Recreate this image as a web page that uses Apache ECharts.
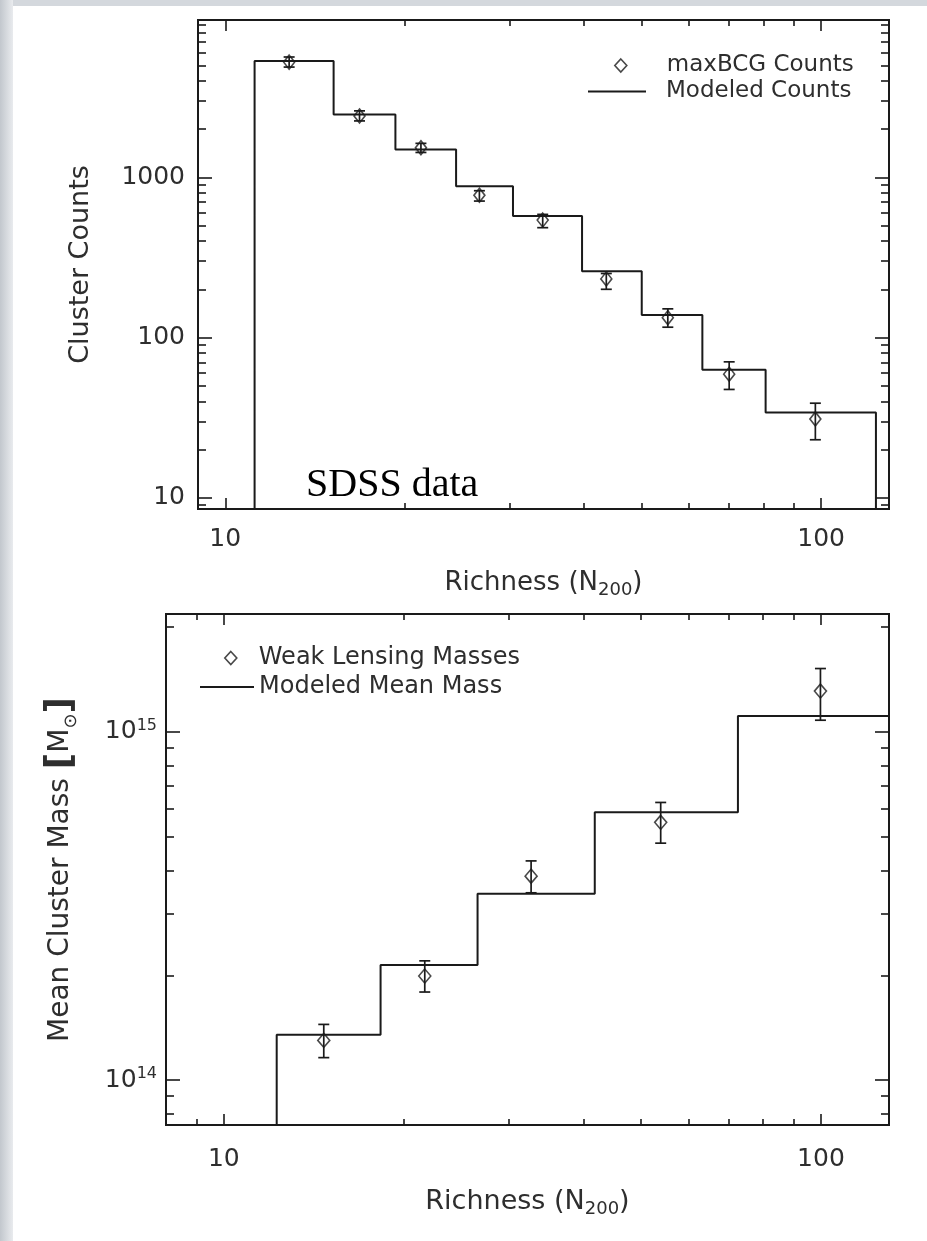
<!DOCTYPE html>
<html>
<head>
<meta charset="utf-8">
<script src="https://cdn.jsdelivr.net/npm/echarts@6/dist/echarts.min.js"></script>
<style>
html,body{margin:0;padding:0;background:#fff;}
#main{width:927px;height:1241px;}
</style>
</head>
<body>
<div id="main"></div>
<script>
// top panel: cluster counts vs richness
var countEdges = [11.2, 15.2, 19.3, 24.4, 30.4, 39.7, 50, 63.2, 80.7, 123.6]
var countModel = [5330, 2470, 1490, 880, 573, 259, 138, 63, 34]
var countRich = [12.8, 16.8, 21.3, 26.7, 34.1, 43.6, 55.3, 70.1, 97.8]
var countObs = [5240, 2415, 1530, 773, 541, 232, 133, 59, 31]
var countLo = [4880, 2250, 1430, 711, 485, 200, 116, 47.4, 23]
var countHi = [5640, 2600, 1630, 825, 587, 251, 151, 70.5, 38.9]

// bottom panel: mean mass vs richness
var massEdges = [12.26, 18.3, 26.6, 41.8, 72.6, 130]
var massModel = [1.35e14, 2.14e14, 3.43e14, 5.88e14, 1.11e15]
var massRich = [14.7, 21.7, 32.7, 53.9, 99.8]
var massObs = [1.30e14, 1.99e14, 3.85e14, 5.5e14, 1.31e15]
var massLo = [1.16e14, 1.79e14, 3.45e14, 4.79e14, 1.08e15]
var massHi = [1.445e14, 2.20e14, 4.26e14, 6.27e14, 1.52e15]

// ticks
var xMajor = [10, 100]
var xMajorLabels = ['10', '100']
var xMinor = [9, 20, 30, 40, 50, 60, 70, 80, 90]
var countYMajor = [10, 100, 1000]
var countYLabels = ['10', '100', '1000']
var countYMinor = [9, 20, 30, 40, 50, 60, 70, 80, 90, 200, 300, 400, 500, 600, 700, 800, 900, 2000, 3000, 4000, 5000, 6000, 7000, 8000, 9000]
var massYMajor = [1e14, 1e15]
var massYExp = ['14', '15']
var massYMinor = [8e13, 9e13, 2e14, 3e14, 4e14, 5e14, 6e14, 7e14, 8e14, 9e14, 2e15]

var ink = '#1a1a1a'
var txt = '#2e2e2e'
var font = 'DejaVu Sans'

function pickLabel(v, ticks, labels) {
	for (var i = 0; i < ticks.length; i++) {
		if (Math.abs(Math.log10(v) - Math.log10(ticks[i])) < 1e-6) return labels[i]
	}
	return ''
}

function tickAxis(pos, grid, min, max, values, len, extra) {
	var ax = {
		type: 'log', gridIndex: grid, position: pos, min: min, max: max,
		axisLine: {show: false},
		axisTick: {show: true, inside: true, length: len, customValues: values, lineStyle: {color: ink, width: 1.6}},
		axisLabel: {show: false},
		splitLine: {show: false},
		minorTick: {show: false}
	}
	if (extra) {
		for (var k in extra) ax[k] = extra[k]
	}
	return ax
}

function stepData(edges, vals, floor, dropEnd) {
	var d = [[edges[0], floor]]
	for (var i = 0; i < vals.length; i++) {
		d.push([edges[i], vals[i]])
		d.push([edges[i + 1], vals[i]])
	}
	if (dropEnd) d.push([edges[edges.length - 1], floor])
	return d
}

function errRows(x, lo, hi) {
	var r = []
	for (var i = 0; i < x.length; i++) r.push([x[i], lo[i], hi[i]])
	return r
}

function pts(x, y) {
	var r = []
	for (var i = 0; i < x.length; i++) r.push([x[i], y[i]])
	return r
}

function errorBar(params, api) {
	var x = api.value(0)
	var a = api.coord([x, api.value(1)])
	var b = api.coord([x, api.value(2)])
	var cap = 5.5
	var st = {stroke: ink, lineWidth: 1.7}
	return {type: 'group', children: [
		{type: 'line', shape: {x1: a[0], y1: a[1], x2: b[0], y2: b[1]}, style: st},
		{type: 'line', shape: {x1: a[0] - cap, y1: a[1], x2: a[0] + cap, y2: a[1]}, style: st},
		{type: 'line', shape: {x1: b[0] - cap, y1: b[1], x2: b[0] + cap, y2: b[1]}, style: st}
	]}
}

// one legend per entry so the diamond and the line can have their own icon sizes
function legendItem(name, icon, left, top, w, h, pad, size, style) {
	return {
		data: [{name: name, icon: icon, itemStyle: style}],
		orient: 'vertical', left: left, top: top, itemWidth: w, itemHeight: h,
		selectedMode: false,
		textStyle: {fontSize: size, fontFamily: font, color: txt, padding: [0, 0, 0, pad]}
	}
}

var xName = '{r|Richness (N}{s|200}{r|)}'
var xNameStyle = function (size) {
	return {rich: {
		r: {fontSize: size, fontFamily: font, color: txt, lineHeight: size + 6},
		s: {fontSize: Math.round(size * 0.68), fontFamily: font, color: txt, verticalAlign: 'bottom', lineHeight: Math.round(size * 0.68)}
	}}
}
var tickLabel = {show: true, fontSize: 25, fontFamily: font, color: txt}

var topX = [9, 130], topY = [8.5, 9600]
var botX = [8, 130], botY = [7.43e13, 2.18e15]

var xAxes = [
	tickAxis('bottom', 0, topX[0], topX[1], xMajor, 11, {
		axisLabel: Object.assign({}, tickLabel, {margin: 18, customValues: xMajor, formatter: function (v) { return pickLabel(v, xMajor, xMajorLabels) }}),
		name: xName, nameLocation: 'middle', nameGap: 58, nameTextStyle: xNameStyle(26)
	}),
	tickAxis('bottom', 0, topX[0], topX[1], xMinor, 6),
	tickAxis('top', 0, topX[0], topX[1], xMajor, 11),
	tickAxis('top', 0, topX[0], topX[1], xMinor, 6),
	tickAxis('bottom', 1, botX[0], botX[1], xMajor, 11, {
		axisLabel: Object.assign({}, tickLabel, {margin: 22, customValues: xMajor, formatter: function (v) { return pickLabel(v, xMajor, xMajorLabels) }}),
		name: xName, nameLocation: 'middle', nameGap: 60, nameTextStyle: xNameStyle(27)
	}),
	tickAxis('bottom', 1, botX[0], botX[1], xMinor, 6),
	tickAxis('top', 1, botX[0], botX[1], xMajor, 11),
	tickAxis('top', 1, botX[0], botX[1], xMinor, 6)
]

var yAxes = [
	tickAxis('left', 0, topY[0], topY[1], countYMajor, 14, {
		axisLabel: Object.assign({}, tickLabel, {margin: 13, customValues: countYMajor, formatter: function (v) { return pickLabel(v, countYMajor, countYLabels) }}),
		name: 'Cluster Counts', nameLocation: 'middle', nameGap: 104,
		nameTextStyle: {fontSize: 27, fontFamily: font, color: txt}
	}),
	tickAxis('left', 0, topY[0], topY[1], countYMinor, 8),
	tickAxis('right', 0, topY[0], topY[1], countYMajor, 14),
	tickAxis('right', 0, topY[0], topY[1], countYMinor, 8),
	tickAxis('left', 1, botY[0], botY[1], massYMajor, 14, {
		axisLabel: Object.assign({}, tickLabel, {
			margin: 9, customValues: massYMajor,
			formatter: function (v) { return '{b|10}{sup|' + pickLabel(v, massYMajor, massYExp) + '}' },
			rich: {
				b: {fontSize: 25, fontFamily: font, color: txt, lineHeight: 28},
				sup: {fontSize: 16, fontFamily: font, color: txt, verticalAlign: 'top', lineHeight: 16}
			}
		}),
		name: '{t|Mean Cluster Mass }{br|[}{m|M}{sun|⊙}{br|]}', nameLocation: 'middle', nameGap: 86,
		nameTextStyle: {rich: {
			t: {fontSize: 28, fontFamily: font, color: txt, lineHeight: 36},
			br: {fontSize: 36, fontFamily: font, fontWeight: 'bold', color: txt, lineHeight: 38},
			m: {fontSize: 28, fontFamily: font, color: txt, lineHeight: 36},
			sun: {fontSize: 18, fontFamily: font, color: txt, verticalAlign: 'bottom', lineHeight: 26}
		}}
	}),
	tickAxis('left', 1, botY[0], botY[1], massYMinor, 8),
	tickAxis('right', 1, botY[0], botY[1], massYMajor, 14),
	tickAxis('right', 1, botY[0], botY[1], massYMinor, 8)
]

var diamondStyle = {color: 'rgba(0,0,0,0)', borderColor: ink, borderWidth: 1.6}
var barStyle = {color: ink}

var myChart = echarts.init(document.getElementById('main'))
option = {
	backgroundColor: '#fff',
	animation: false,
	grid: [
		{left: 198, top: 20, width: 691, height: 489, show: true, borderColor: ink, borderWidth: 2, backgroundColor: 'transparent'},
		{left: 166, top: 614, width: 723, height: 511, show: true, borderColor: ink, borderWidth: 2, backgroundColor: 'transparent'}
	],
	xAxis: xAxes,
	yAxis: yAxes,
	legend: [
		legendItem('maxBCG Counts', 'diamond', 609, 49, 12, 13, 35, 23, diamondStyle),
		legendItem('Modeled Counts', 'rect', 583, 75, 58, 2, 15, 23, barStyle),
		legendItem('Weak Lensing Masses', 'diamond', 219, 641, 12, 13, 17, 24, diamondStyle),
		legendItem('Modeled Mean Mass', 'rect', 195, 670, 54, 2, 0, 24, barStyle)
	],
	graphic: [
		{type: 'rect', silent: true, shape: {x: 0, y: 0, width: 927, height: 6}, style: {fill: '#d4d8dd'}},
		{type: 'rect', silent: true, shape: {x: 0, y: 0, width: 13, height: 1241},
			style: {fill: new echarts.graphic.LinearGradient(0, 0, 1, 0, [{offset: 0, color: '#c2c7cd'}, {offset: 1, color: '#e9ebee'}])}},
		{type: 'text', silent: true, style: {text: 'SDSS data', x: 306, y: 485, fontSize: 40, fontFamily: 'Liberation Serif', fill: '#000', verticalAlign: 'middle'}}
	],
	series: [
		{
			name: 'Modeled Counts', type: 'line', xAxisIndex: 0, yAxisIndex: 0,
			data: stepData(countEdges, countModel, topY[0], true),
			symbol: 'none', lineStyle: {color: ink, width: 2}, itemStyle: {color: ink}
		},
		{
			type: 'custom', xAxisIndex: 0, yAxisIndex: 0, renderItem: errorBar,
			data: errRows(countRich, countLo, countHi), encode: {x: 0, y: [1, 2]}, z: 3
		},
		{
			name: 'maxBCG Counts', type: 'scatter', xAxisIndex: 0, yAxisIndex: 0,
			data: pts(countRich, countObs), symbol: 'diamond', symbolSize: [11, 14],
			itemStyle: diamondStyle, z: 4
		},
		{
			name: 'Modeled Mean Mass', type: 'line', xAxisIndex: 4, yAxisIndex: 4,
			data: stepData(massEdges, massModel, botY[0], false),
			symbol: 'none', lineStyle: {color: ink, width: 2}, itemStyle: {color: ink}
		},
		{
			type: 'custom', xAxisIndex: 4, yAxisIndex: 4, renderItem: errorBar,
			data: errRows(massRich, massLo, massHi), encode: {x: 0, y: [1, 2]}, z: 3
		},
		{
			name: 'Weak Lensing Masses', type: 'scatter', xAxisIndex: 4, yAxisIndex: 4,
			data: pts(massRich, massObs), symbol: 'diamond', symbolSize: [12, 14],
			itemStyle: diamondStyle, z: 4
		}
	]
}
myChart.setOption(option)
</script>
</body>
</html>
